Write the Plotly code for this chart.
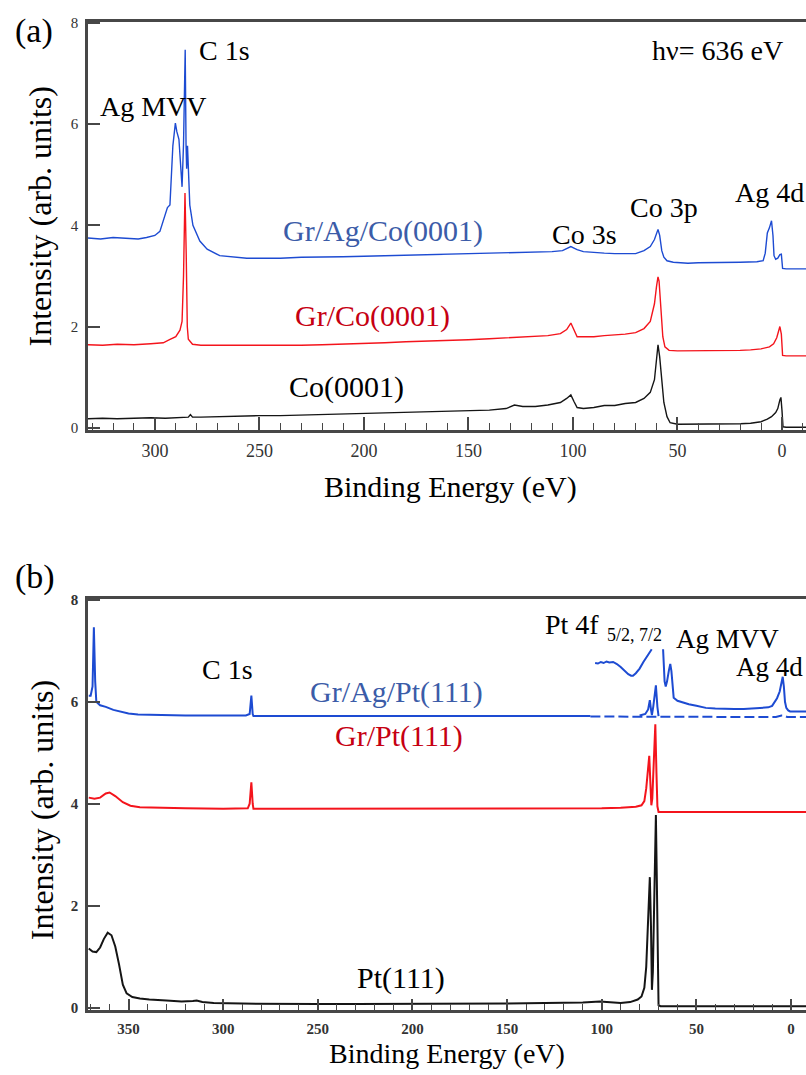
import plotly.graph_objects as go

# ---------------- Panel (a): hv = 636 eV, Co(0001) based samples ----------------
a_co_E = [332, 325, 318, 310, 302, 295, 288, 284, 283, 282, 278, 270, 260, 250, 240,
          230, 220, 210, 200, 190, 180, 170, 160, 150, 140, 132, 128, 124, 118, 112,
          106, 103, 101, 99.5, 98, 95, 90, 85, 80, 75, 70, 66, 63, 61, 60, 59.3, 58.5,
          57.5, 56.5, 55, 53.5, 50, 45, 40, 35, 30, 25, 20, 15, 10, 7, 5, 3, 2, 1, 0.5,
          0, -0.5, -2, -6, -11.5]
a_co_I = [0.18, 0.19, 0.18, 0.19, 0.20, 0.19, 0.21, 0.21, 0.26, 0.21, 0.21, 0.22, 0.23,
          0.24, 0.24, 0.25, 0.26, 0.27, 0.28, 0.29, 0.30, 0.31, 0.32, 0.33, 0.35, 0.38,
          0.45, 0.42, 0.42, 0.45, 0.50, 0.58, 0.65, 0.52, 0.40, 0.38, 0.40, 0.44, 0.44,
          0.48, 0.50, 0.58, 0.70, 0.95, 1.35, 1.64, 1.40, 0.90, 0.50, 0.22, 0.10, 0.07,
          0.07, 0.07, 0.07, 0.07, 0.08, 0.08, 0.09, 0.12, 0.17, 0.22, 0.30, 0.38, 0.55,
          0.60, 0.35, 0.02, 0.01, 0.01, 0.01]

a_grco_E = [332, 325, 318, 310, 302, 296, 293, 290, 288, 287, 286.3, 285.6, 285, 284.5,
            284, 282, 278, 270, 260, 250, 240, 230, 220, 210, 200, 190, 180, 170, 160,
            150, 140, 130, 120, 112, 106, 103, 101, 99.5, 98, 95, 90, 85, 80, 75, 70, 66,
            63, 61, 60, 59.3, 58.8, 58, 57, 56, 54, 50, 45, 40, 35, 30, 25, 20, 15, 10, 6,
            4, 2.5, 1.5, 1, 0.3, -0.3, -2, -11.5]
a_grco_I = [1.64, 1.63, 1.65, 1.64, 1.66, 1.68, 1.74, 1.80, 1.93, 2.10, 3.00, 4.64, 3.40,
            2.00, 1.75, 1.65, 1.63, 1.63, 1.62, 1.62, 1.62, 1.63, 1.64, 1.65, 1.66, 1.68,
            1.70, 1.71, 1.73, 1.74, 1.76, 1.78, 1.80, 1.82, 1.86, 1.94, 2.07, 1.92, 1.80,
            1.80, 1.80, 1.82, 1.83, 1.85, 1.88, 1.96, 2.10, 2.45, 2.80, 2.98, 2.90, 2.35,
            1.80, 1.60, 1.53, 1.52, 1.52, 1.52, 1.52, 1.52, 1.53, 1.53, 1.54, 1.56, 1.60,
            1.66, 1.78, 1.92, 2.00, 1.85, 1.43, 1.42, 1.42]

a_gragco_E = [332, 326, 320, 314, 308, 304, 300, 297.6, 295, 294, 292.8, 291.4, 290.2,
              289.5, 288.5, 287.8, 287, 286.3, 285.9, 285.5, 285.1, 284.8, 284.4, 284,
              283.3, 281.8, 278.5, 275, 269, 256, 250, 240, 230, 220, 210, 200, 190, 180,
              170, 160, 150, 140, 130, 120, 110, 105, 102, 101, 99.5, 98, 95, 90, 85, 80,
              75, 70, 66, 63, 61, 60, 59.3, 58.5, 57.5, 56.5, 55, 52, 45, 40, 30, 20, 12,
              9, 8, 7, 6, 5, 4.3, 3.8, 3, 2, 1, 0.3, -0.3, -2, -11.5]
a_gragco_I = [3.75, 3.73, 3.76, 3.74, 3.73, 3.76, 3.80, 3.88, 4.20, 4.35, 4.40, 5.57,
              6.02, 5.85, 5.70, 5.20, 4.76, 5.60, 7.00, 7.47, 5.60, 5.12, 5.57, 5.00,
              4.40, 4.00, 3.69, 3.53, 3.40, 3.35, 3.35, 3.35, 3.37, 3.37, 3.38, 3.39, 3.40,
              3.41, 3.42, 3.43, 3.44, 3.46, 3.47, 3.47, 3.48, 3.50, 3.55, 3.58, 3.55, 3.52,
              3.48, 3.46, 3.45, 3.44, 3.44, 3.44, 3.50, 3.58, 3.72, 3.86, 3.92, 3.80, 3.50,
              3.37, 3.30, 3.27, 3.25, 3.26, 3.26, 3.27, 3.28, 3.30, 3.45, 3.85, 3.95, 4.09,
              3.80, 3.40, 3.33, 3.35, 3.42, 3.43, 3.15, 3.14, 3.14]

# ---------------- Panel (b): Pt(111) based samples ----------------
b_pt_E = [371, 369, 367, 365, 363, 361, 359, 357, 355, 353, 351, 348, 344, 339, 330, 322,
          316, 314, 311, 305, 290, 270, 250, 230, 210, 190, 170, 150, 130, 110, 101, 95,
          90, 85, 81, 79, 77.5, 76.5, 75.6, 74.6, 74.0, 73.5, 73.0, 72.4, 71.4, 70.9,
          70.4, 70.0, 69, 60, 50, 40, 30, 20, 10, 0, -8]
b_pt_I = [1.16, 1.10, 1.09, 1.18, 1.35, 1.47, 1.42, 1.20, 0.85, 0.45, 0.28, 0.21, 0.18,
          0.16, 0.14, 0.12, 0.13, 0.14, 0.11, 0.09, 0.08, 0.07, 0.07, 0.07, 0.07, 0.07,
          0.07, 0.08, 0.09, 0.10, 0.12, 0.10, 0.09, 0.11, 0.16, 0.22, 0.39, 0.80, 1.80,
          2.56, 1.60, 0.35, 0.70, 2.20, 3.78, 2.50, 0.60, 0.05, 0.03, 0.03, 0.03, 0.03,
          0.03, 0.03, 0.03, 0.03, 0.03]

b_grpt_E = [371, 368, 365, 362, 360, 357, 353, 349, 344, 335, 320, 300, 290, 287, 286,
            285.1, 284.4, 284, 270, 250, 220, 190, 160, 130, 110, 100, 90, 82, 79, 77.5,
            76.5, 75.6, 74.9, 74.3, 73.8, 73.3, 72.7, 71.7, 71.1, 70.6, 70, 60, 40, 20,
            0, -8]
b_grpt_I = [4.12, 4.10, 4.12, 4.20, 4.22, 4.15, 4.03, 3.96, 3.93, 3.92, 3.91, 3.90, 3.90,
            3.91, 4.00, 4.42, 4.00, 3.90, 3.90, 3.90, 3.90, 3.90, 3.90, 3.90, 3.91, 3.91,
            3.92, 3.94, 3.97, 4.05, 4.30, 4.70, 4.94, 4.40, 3.97, 4.10, 4.80, 5.56, 4.60,
            3.95, 3.84, 3.84, 3.84, 3.84, 3.84, 3.84]

# Gr/Ag/Pt(111): survey part (solid) and Pt 4f doublet
b_agpt_E = [371, 370, 369, 368.3, 367.6, 367, 365, 362, 358, 354, 350, 345, 335, 320,
            300, 288, 286, 285.1, 284.4, 284, 270, 250, 220, 190, 160, 130, 106]
b_agpt_I = [6.12, 6.12, 6.30, 7.46, 6.40, 6.00, 5.93, 5.90, 5.84, 5.80, 5.77, 5.75, 5.74,
            5.73, 5.73, 5.73, 5.76, 6.12, 5.76, 5.72, 5.72, 5.72, 5.72, 5.72, 5.72, 5.72,
            5.72]
b_agpt_4f_E = [80, 77, 75.5, 74.6, 74.0, 73.5, 72.8, 71.4, 70.6, 70]
b_agpt_4f_I = [5.73, 5.76, 5.85, 6.03, 5.85, 5.74, 5.90, 6.32, 5.90, 5.72]
# unscaled low binding energy trace (dashed)
b_agpt_low_E = [106, 90, 80, 70, 60, 40, 20, 8, 5, 4, 2, -8]
b_agpt_low_I = [5.71, 5.71, 5.71, 5.70, 5.70, 5.70, 5.70, 5.70, 5.73, 5.73, 5.70, 5.70]
# magnified segments
b_agpt_magA_E = [103.5, 102, 100.5, 99, 97.5, 96, 94, 92, 90, 88, 86, 84.5, 83.5, 82, 80,
                 78, 76, 74.5, 73.6]
b_agpt_magA_I = [6.76, 6.75, 6.78, 6.76, 6.79, 6.77, 6.78, 6.74, 6.68, 6.60, 6.54, 6.51,
                 6.51, 6.56, 6.65, 6.78, 6.90, 7.00, 7.03]
b_agpt_magB_E = [67.6, 67.3, 66.8, 66.2, 65.5, 64.5, 63.8, 63.2, 62.6, 62, 60, 57, 54, 50,
                 45, 40, 35, 30, 25, 20, 15, 12, 10, 8.5, 7.4, 6, 5, 4.4, 3.8, 3.2, 2.5,
                 1.5, 0.5, -2, -8]
b_agpt_magB_I = [7.03, 6.70, 6.40, 6.30, 6.40, 6.62, 6.74, 6.60, 6.25, 6.08, 6.02, 5.98,
                 5.95, 5.92, 5.88, 5.87, 5.86, 5.86, 5.86, 5.87, 5.88, 5.89, 5.92, 6.00,
                 6.07, 6.20, 6.40, 6.49, 6.30, 6.00, 5.88, 5.83, 5.81, 5.81, 5.81]

# ---------------- styling ----------------
W, H = 806, 1075
SERIF = "Liberation Serif"
BLUE, RED, BLACK = "#1d4bd2", "#f4141c", "#151515"
BLUE_TXT, RED_TXT = "#3b5ca8", "#c60012"
AXIS = "#474747"


def px(x):
    return x / W


def py(y):
    return 1 - y / H


fig = go.Figure()


def line(E, I, color, width, xa, ya, dash="solid"):
    fig.add_trace(go.Scatter(x=E, y=I, mode="lines", xaxis=xa, yaxis=ya,
                             line=dict(color=color, width=width, dash=dash),
                             showlegend=False, hoverinfo="skip"))


line(a_co_E, a_co_I, BLACK, 1.4, "x", "y")
line(a_grco_E, a_grco_I, RED, 1.4, "x", "y")
line(a_gragco_E, a_gragco_I, BLUE, 1.4, "x", "y")

line(b_pt_E, b_pt_I, BLACK, 2, "x2", "y2")
line(b_grpt_E, b_grpt_I, RED, 2, "x2", "y2")
line(b_agpt_low_E, b_agpt_low_I, BLUE, 2, "x2", "y2", dash="10px,4px")
line(b_agpt_E, b_agpt_I, BLUE, 2, "x2", "y2")
line(b_agpt_4f_E, b_agpt_4f_I, BLUE, 2, "x2", "y2")
line(b_agpt_magA_E, b_agpt_magA_I, BLUE, 2, "x2", "y2")
line(b_agpt_magB_E, b_agpt_magB_I, BLUE, 2, "x2", "y2")


def xaxis_style(dom, rng, anchor, tick_size, tick_weight, major_len, minor_len, standoff):
    return dict(domain=dom, range=rng, anchor=anchor, showgrid=False, zeroline=False,
                showline=True, linecolor=AXIS, linewidth=3, mirror=True,
                ticks="inside", tickmode="linear", tick0=0, dtick=50,
                ticklen=major_len, tickwidth=1.6, tickcolor=AXIS,
                minor=dict(ticks="inside", dtick=10, tick0=0, ticklen=minor_len,
                           tickwidth=1.4, tickcolor=AXIS, showgrid=False),
                tickfont=dict(family=SERIF, size=tick_size, color="#333333",
                              weight=tick_weight),
                ticklabelstandoff=standoff, fixedrange=True)


def yaxis_style(dom, rng, anchor, tick_weight):
    return dict(domain=dom, range=rng, anchor=anchor, showgrid=False, zeroline=False,
                showline=True, linecolor=AXIS, linewidth=2.5, mirror=False,
                ticks="inside", tickmode="array", tickvals=[0, 2, 4, 6, 8],
                ticklen=12, tickwidth=2, tickcolor=AXIS,
                tickfont=dict(family=SERIF, size=15, color="#333333", weight=tick_weight),
                ticklabelstandoff=4, fixedrange=True)


fig.update_layout(
    width=W, height=H, autosize=False,
    margin=dict(l=0, r=0, t=0, b=0),
    paper_bgcolor="white", plot_bgcolor="white",
    font=dict(family=SERIF),
    xaxis=xaxis_style([px(88), 1], [332, -11.5], "y", 18, "normal", 13, 7, 3),
    yaxis=yaxis_style([py(428), py(15)], [-0.04, 8.02], "x", "normal"),
    xaxis2=xaxis_style([px(88), 1], [371.4, -7.9], "y2", 15, "bold", 11, 6, 3),
    yaxis2=yaxis_style([py(1015), py(599)], [-0.04, 8.02], "x2", "bold"),
)


def label(text, x, y, size=28, color="black", angle=0):
    fig.add_annotation(text=text, x=px(x), y=py(y), xref="paper", yref="paper",
                       xanchor="center", yanchor="middle", showarrow=False,
                       textangle=angle, borderpad=0,
                       font=dict(family=SERIF, size=size, color=color))


# panel (a) labels
label("(a)", 34, 24, size=34)
label("C 1s", 224, 44)
label("Ag MVV", 153, 101)
label("hν= 636 eV", 717, 44)
label("Gr/Ag/Co(0001)", 383, 227, size=30, color=BLUE_TXT)
label("Co 3s", 584, 230)
label("Co 3p", 664, 203)
label("Ag 4d", 769, 188)
label("Gr/Co(0001)", 372, 313, size=30, color=RED_TXT)
label("Co(0001)", 346, 385, size=30)
label("Binding Energy (eV)", 450, 486, size=30)
label("Intensity (arb. units)", 40, 212, size=32, angle=-90)

# panel (b) labels
label("(b)", 35, 577, size=34)
label("C 1s", 227, 671)
label("Gr/Ag/Pt(111)", 396, 693, size=30, color=BLUE_TXT)
label("Gr/Pt(111)", 399, 738, size=30, color=RED_TXT)
label("Pt(111)", 401, 983, size=30)
label("Pt 4f", 572, 625)
label("5/2, 7/2", 634, 636, size=18)
label("Ag MVV", 727, 640, size=27)
label("Ag 4d", 769, 668, size=27)
label("Binding Energy (eV)", 447, 1059, size=28)
label("Intensity (arb. units)", 42, 813, size=32, angle=-90)

fig.write_html("out.html")
